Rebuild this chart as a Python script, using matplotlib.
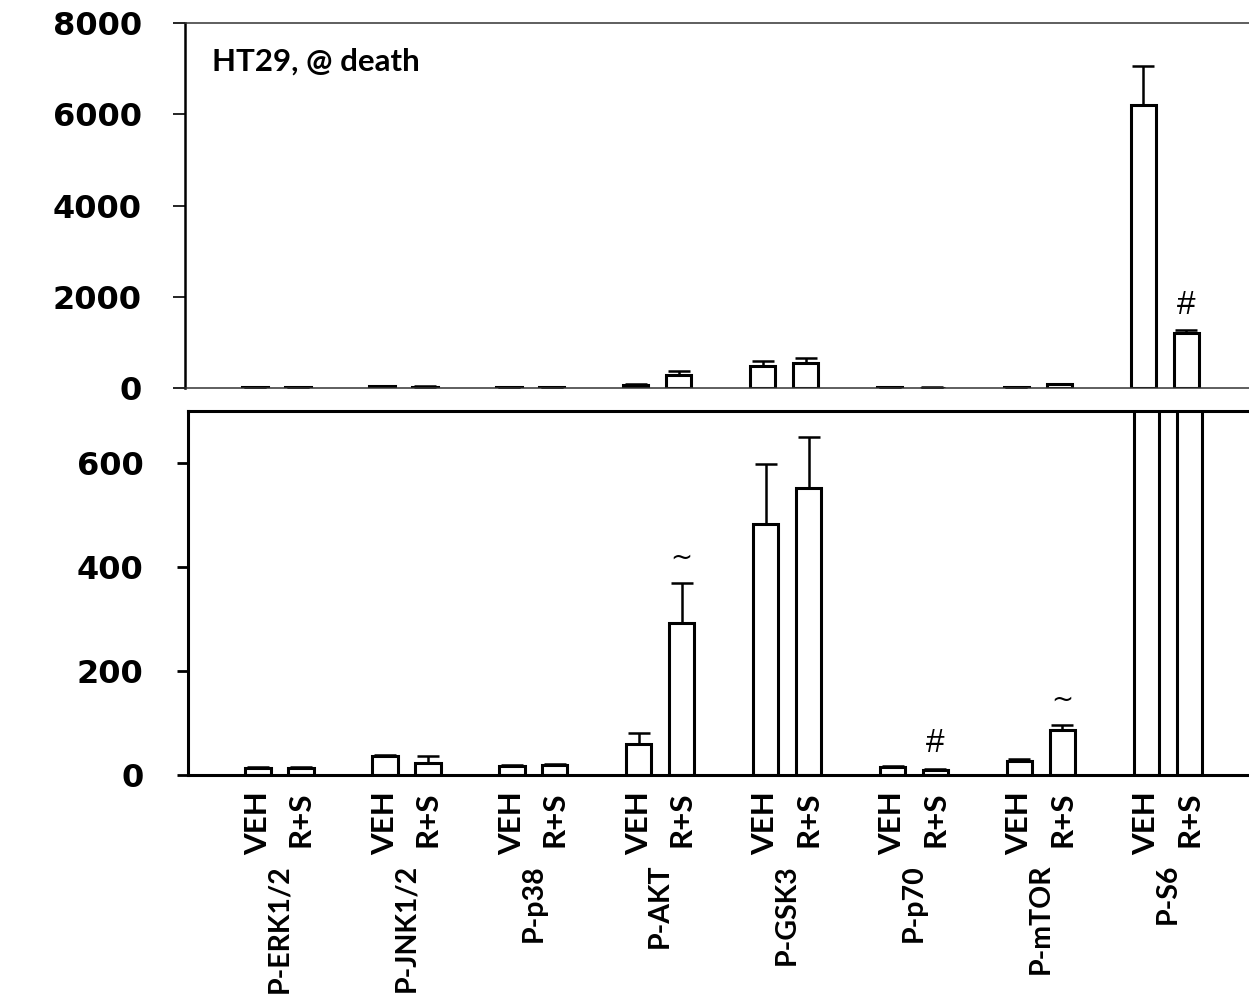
import numpy as np
import matplotlib
matplotlib.use("Agg")
import matplotlib.pyplot as plt

# data
groups = ['P-ERK1/2', 'P-JNK1/2', 'P-p38', 'P-AKT', 'P-GSK3', 'P-p70', 'P-mTOR', 'P-S6']
veh = [13, 36, 18, 60, 483, 16, 27, 6200]
veh_err = [2, 3, 2, 20, 116, 2, 3, 850]
rs = [13, 23, 20, 293, 551, 9, 87, 1200]
rs_err = [2, 13, 2, 76, 99, 3, 9, 70]
rs_marks = ['', '', '', '~', '', '#', '~', '#']
pair_labels = ['VEH', 'R+S']

x = np.arange(len(groups))
off = 0.169
w = 0.2
zeros = np.zeros(len(groups))

W, H = 1249, 1006
fig = plt.figure(figsize=(W / 100, H / 100), dpi=100)
ax_top = fig.add_axes([185 / W, (H - 388) / H, 1067 / W, 365 / H])
ax_bot = fig.add_axes([188 / W, (H - 775) / H, 1067 / W, 364 / H])

bar_kw = dict(facecolor='white', edgecolor='black', linewidth=2.2)
err_kw = dict(elinewidth=1.8, capsize=8, capthick=1.8, ecolor='black')


def draw(ax, ymax):
    ax.bar(x - off, veh, w, yerr=[zeros, veh_err], error_kw=err_kw, **bar_kw)
    ax.bar(x + off, rs, w, yerr=[zeros, rs_err], error_kw=err_kw, **bar_kw)
    ax.set_ylim(0, ymax)
    ax.set_xlim(-0.721, -0.721 + 1067 / 126.9)
    ax.spines['right'].set_visible(False)
    for i, m in enumerate(rs_marks):
        top = rs[i] + rs_err[i]
        # mark goes in the panel where the bar tip is visible
        if m and ((ymax > 1000) == (top > 700)):
            fam = 'DejaVu Sans' if m == '~' else 'Liberation Sans'
            ax.annotate(m, xy=(x[i] + off, top), xytext=(0, 18),
                        textcoords='offset points', ha='center', va='center',
                        fontsize=24 if m == '#' else 19, family=fam)


# top panel: full range
draw(ax_top, 8000)
ax_top.set_yticks([0, 2000, 4000, 6000, 8000])
ax_top.set_xticks([])
ax_top.tick_params(axis='y', direction='out', length=9, width=1.2, pad=22)
ax_top.spines['left'].set_linewidth(1.8)
for s in ['top', 'bottom']:
    ax_top.spines[s].set_linewidth(1.1)
    ax_top.spines[s].set_color('#333333')
ax_top.text(0.025, 0.893, 'HT29, @ death', transform=ax_top.transAxes,
            fontsize=22.5, fontweight='bold', family='Lato', va='center')

# bottom panel: zoomed in
draw(ax_bot, 700)
ax_bot.set_yticks([0, 200, 400, 600])
ax_bot.tick_params(axis='y', direction='out', length=8, width=2, pad=24)
for s in ['left', 'top', 'bottom']:
    ax_bot.spines[s].set_linewidth(2.2)

ticks = np.ravel(np.column_stack([x - off, x + off]))
ax_bot.set_xticks(ticks)
ax_bot.set_xticklabels(pair_labels * len(groups), rotation=90, va='top',
                       ha='center', fontsize=22.5, fontweight='bold', family='Lato')
ax_bot.tick_params(axis='x', length=0, pad=12)

for i, g in enumerate(groups):
    ax_bot.annotate(g, xy=(x[i], 0), xytext=(0, -64), textcoords='offset points',
                    rotation=90, ha='center', va='top', fontsize=20.5,
                    fontweight='bold', family='Lato', annotation_clip=False)

for ax in (ax_top, ax_bot):
    plt.setp(ax.get_yticklabels(), fontfamily='DejaVu Sans', fontweight='bold', fontsize=23)

fig.savefig('out.png', dpi=100)
